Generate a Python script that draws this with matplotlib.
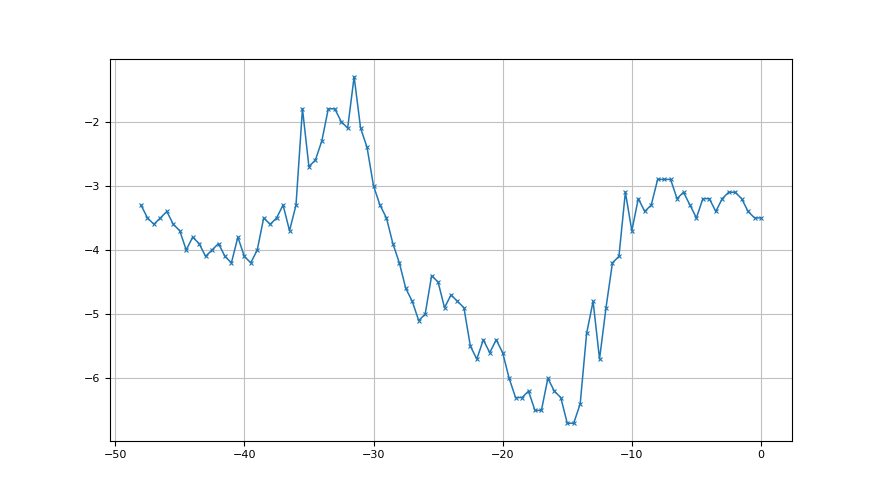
import numpy as np
import matplotlib
matplotlib.use('Agg')
import matplotlib.pyplot as plt

x = np.arange(-48, 0.5, 0.5)
y = [-3.3, -3.5, -3.6, -3.5, -3.4, -3.6, -3.7, -4.0, -3.8, -3.9,
     -4.1, -4.0, -3.9, -4.1, -4.2, -3.8, -4.1, -4.2, -4.0, -3.5,
     -3.6, -3.5, -3.3, -3.7, -3.3, -1.8, -2.7, -2.6, -2.3, -1.8,
     -1.8, -2.0, -2.1, -1.3, -2.1, -2.4, -3.0, -3.3, -3.5, -3.9,
     -4.2, -4.6, -4.8, -5.1, -5.0, -4.4, -4.5, -4.9, -4.7, -4.8,
     -4.9, -5.5, -5.7, -5.4, -5.6, -5.4, -5.6, -6.0, -6.3, -6.3,
     -6.2, -6.5, -6.5, -6.0, -6.2, -6.3, -6.7, -6.7, -6.4, -5.3,
     -4.8, -5.7, -4.9, -4.2, -4.1, -3.1, -3.7, -3.2, -3.4, -3.3,
     -2.9, -2.9, -2.9, -3.2, -3.1, -3.3, -3.5, -3.2, -3.2, -3.4,
     -3.2, -3.1, -3.1, -3.2, -3.4, -3.5, -3.5]

fig, ax = plt.subplots(figsize=(8.8, 4.95), dpi=100)
ax.plot(x, y, marker='x', markersize=3.5, markeredgewidth=0.8,
        linewidth=1.1, color='#1f77b4')
ax.grid(True, color='#c0c0c0', linewidth=0.8)
ax.set_yticks([-2, -3, -4, -5, -6])
ax.tick_params(labelsize=8)
fig.savefig('out.png')
